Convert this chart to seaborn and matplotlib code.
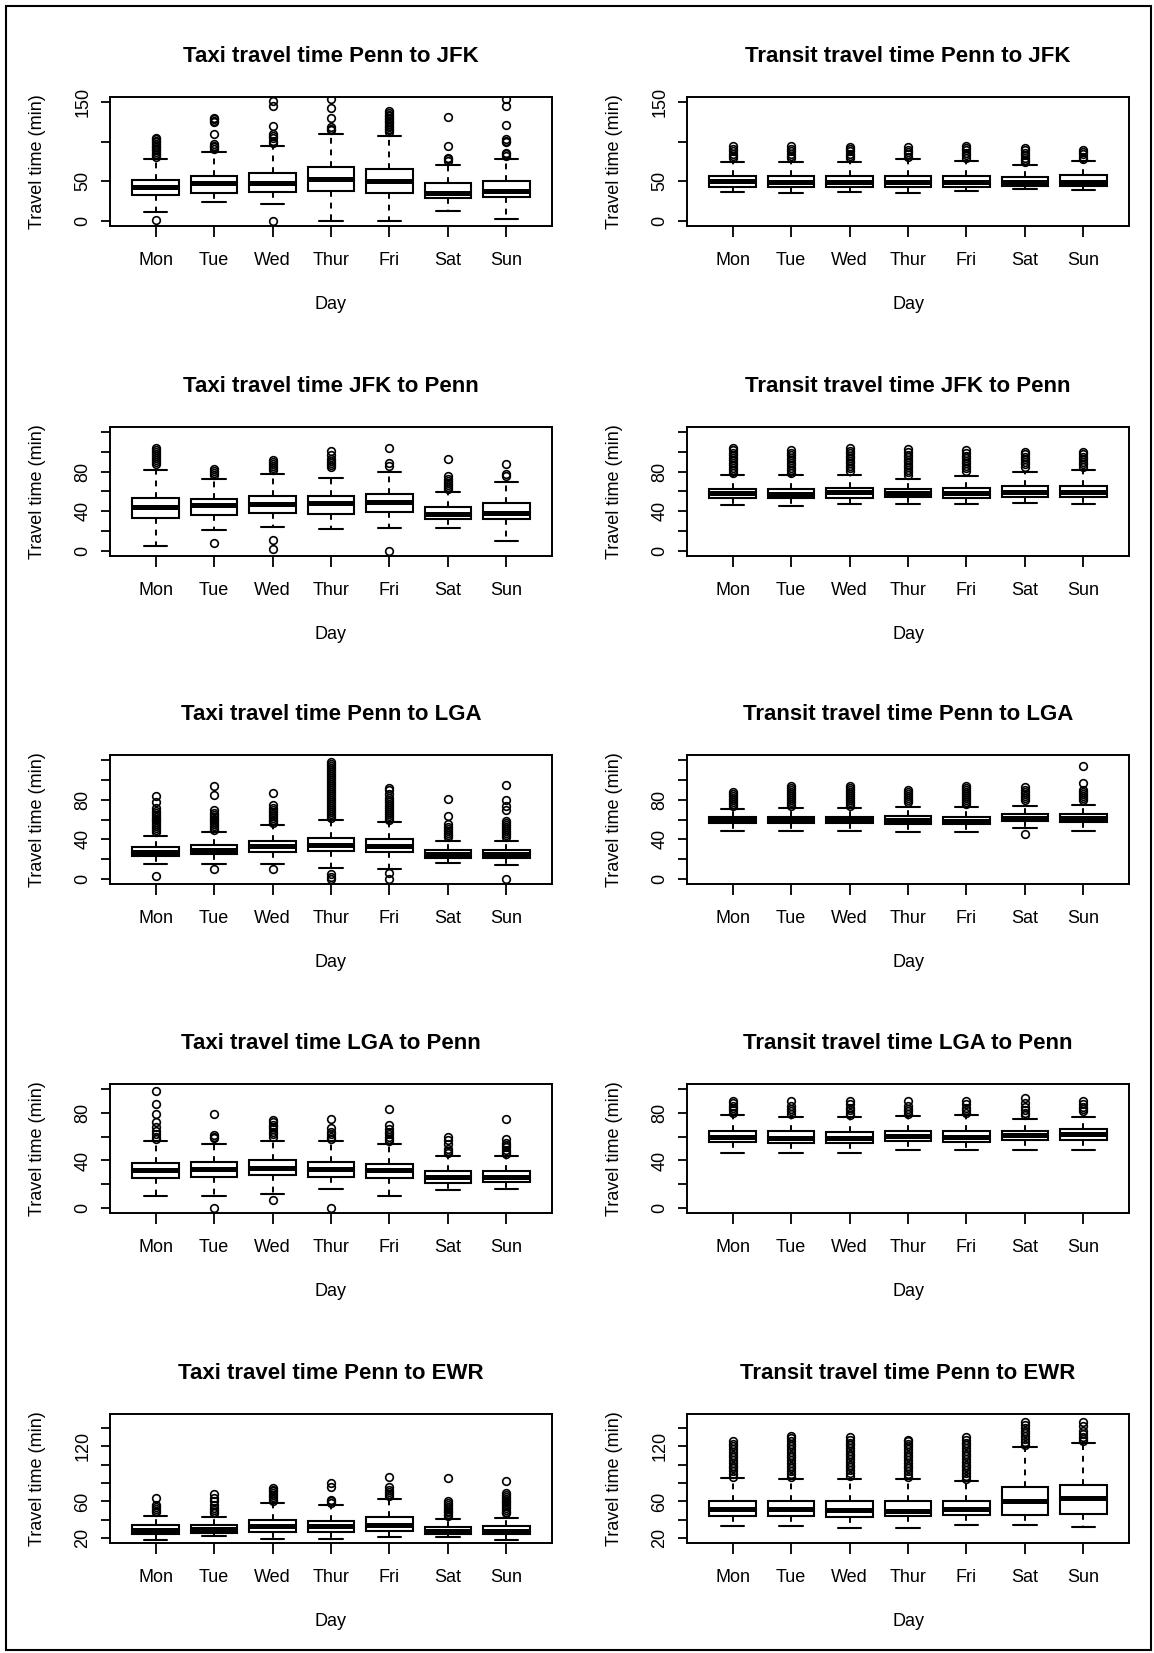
import numpy as np
import pandas as pd
import matplotlib.pyplot as plt
import seaborn as sns
from matplotlib.patches import Rectangle

days = ["Mon", "Tue", "Wed", "Thur", "Fri", "Sat", "Sun"]

# box summaries, one row per day:
# [lower whisker, Q1, median, Q3, upper whisker]
taxi_penn_jfk_box = [[11, 33, 42.5, 52, 78], [24, 35, 47.5, 57, 87], [21, 37, 48, 60, 94],
                     [0, 38, 53, 68, 109], [0, 36, 50, 66, 107], [13, 29, 36, 47.5, 71],
                     [3, 30, 38, 50, 78]]
taxi_penn_jfk_out = [[1, 81, 83, 85, 87, 89, 91, 93, 95, 97, 99, 101, 103, 105],
                     [91, 93, 95, 97, 110, 124, 126, 128, 130],
                     [0, 98, 101, 104, 107, 109, 119, 145, 151],
                     [114, 116, 118, 130, 142, 154],
                     [112, 114, 116, 118, 120, 122, 124, 126, 128, 130, 132, 134, 136, 138],
                     [76, 78, 80, 95, 131],
                     [82, 84, 86, 99, 101, 103, 121, 145, 153]]

transit_penn_jfk_box = [[37, 43, 50, 57, 74], [35, 43, 49, 57, 74], [37, 43, 49, 57, 74],
                        [36, 43, 49, 57, 73], [38, 43, 49, 57, 75], [40, 44.5, 49.5, 56, 71],
                        [39, 44, 49, 57.5, 75.5]]
transit_penn_jfk_out = [[79, 82, 85, 88, 91, 94], [79, 82, 85, 88, 91, 94],
                        [79, 82, 85, 88, 91, 93], [78, 81, 84, 87, 90, 93],
                        [80, 83, 86, 89, 92, 94], [74, 77, 80, 83, 86, 89, 92],
                        [78, 81, 84, 87, 89]]

taxi_jfk_penn_box = [[5, 33.3, 44, 53.3, 82], [21, 36, 46, 52, 73], [24, 38, 47, 55, 78],
                     [22, 37.3, 48, 55.7, 74], [23, 39, 49, 57, 80], [23, 32, 37, 44, 59],
                     [10, 32, 38, 48, 70]]
taxi_jfk_penn_out = [[88, 90, 92, 94, 96, 98, 100, 102, 104],
                     [8, 77, 79, 81, 83],
                     [2, 11, 82, 84, 86, 88, 90, 92],
                     [85, 87, 89, 91, 93, 97, 101],
                     [0, 86, 89, 104],
                     [63, 65, 67, 69, 71, 73, 76, 93],
                     [76, 78, 88]]

transit_jfk_penn_box = [[46, 53, 58, 63, 77], [45, 53, 57, 63, 77], [47, 53, 59, 64, 77],
                        [47, 54, 58, 63, 73], [47, 53, 58, 64, 76], [48, 54, 59, 66, 80],
                        [47, 54, 59, 66, 82]]
transit_jfk_penn_out = [[79, 81.5, 84, 86.5, 89, 91.5, 94, 96.5, 99, 101.5, 104],
                        [79, 81.5, 84, 86.5, 89, 91.5, 94, 96.5, 99, 102],
                        [81, 83.5, 86, 88.5, 91, 93.5, 96, 98.5, 101, 104],
                        [77, 79.5, 82, 84.5, 87, 89.5, 92, 94.5, 97, 99.5, 103],
                        [81, 83.5, 86, 88.5, 91, 93.5, 96, 98.5, 102],
                        [85, 87.5, 90, 92.5, 95, 97.5, 100],
                        [85, 87.5, 90, 92.5, 95, 97.5, 100]]

taxi_penn_lga_box = [[15, 23, 27, 32, 43], [15, 25, 29, 34, 47], [15, 27.5, 33, 38.5, 54],
                     [11, 28, 34, 41, 60], [10, 27, 33, 40, 57], [16, 21, 25, 29, 38],
                     [14, 21, 25, 29, 38]]
taxi_penn_lga_out = [[3, 47, 49, 51, 53, 55, 57, 59, 61, 63, 65, 67, 69, 72, 78, 84],
                     [10, 49, 51, 53, 55, 57, 59, 61, 63, 65, 67, 70, 85, 94],
                     [10, 56, 58, 60, 62, 64, 66, 68, 70, 72, 75, 87],
                     [0, 2, 5, 62, 64, 66, 68, 70, 72, 74, 76, 78, 80, 82, 84, 86, 88, 90,
                      92, 94, 96, 98, 100, 102, 104, 106, 108, 110, 112, 114, 116, 118],
                     [0, 6, 60, 62, 64, 66, 68, 70, 72, 74, 76, 78, 80, 82, 86, 90, 92],
                     [42, 44, 46, 48, 50, 52, 55, 64, 81],
                     [0, 42, 44, 46, 48, 50, 52, 54, 56, 58, 70, 74, 80, 95]]

transit_penn_lga_box = [[48, 56, 59, 63, 71], [48, 56, 59, 63, 72], [48, 56, 59, 63, 72],
                        [47, 55, 59, 64, 73], [47, 55, 58, 63, 73], [51, 58, 62, 66, 74],
                        [48, 57, 62, 66, 75]]
transit_penn_lga_out = [[74, 76, 78, 80, 82, 84, 86, 88],
                        [74, 76, 78, 80, 82, 84, 86, 88, 90, 92, 94],
                        [74, 76, 78, 80, 82, 84, 86, 88, 90, 92, 94],
                        [78, 80, 82, 84, 86, 88, 90],
                        [76, 78, 80, 82, 84, 86, 88, 90, 92, 94],
                        [45, 80, 82, 84, 86, 88, 90, 93],
                        [80, 82, 84, 86, 88, 90, 97, 114]]

taxi_lga_penn_box = [[10, 25, 32, 38, 56], [10, 26, 33, 39, 54], [12, 27.5, 34, 40, 56],
                     [16, 26.5, 33, 39, 56], [10, 25, 32, 37, 53.5], [15, 21.5, 26, 31, 44],
                     [16, 22, 26, 31, 44]]
taxi_lga_penn_out = [[58, 60, 62, 65, 68, 72, 79, 87, 98],
                     [0, 59, 60, 61, 79],
                     [7, 60, 62, 64, 66, 68, 70, 72, 74],
                     [0, 58, 60, 62, 64, 67, 75],
                     [56, 58, 60, 62, 64, 66, 70, 83],
                     [46, 48, 50, 54, 57, 60],
                     [45, 47, 49, 51, 53, 55, 58, 75]]

transit_lga_penn_box = [[46, 55.5, 60, 65, 78], [46, 55, 59, 64.5, 76], [46, 55, 59, 64, 76],
                        [48.5, 56, 60.5, 65, 77], [48.5, 55.5, 60, 65, 78],
                        [48.5, 57, 61, 65, 75], [48.5, 57.5, 62.5, 66.5, 76]]
transit_lga_penn_out = [[80, 82, 84, 86, 88, 90], [79, 81, 83, 86, 90],
                        [78, 80, 82, 84, 87, 90], [79, 81, 83, 86, 90],
                        [80, 82, 84, 87, 90], [78, 80, 82, 85, 88, 92],
                        [81, 83, 85, 87, 90]]

taxi_penn_ewr_box = [[18, 25, 29, 34, 44], [22, 25.5, 30, 34, 43], [19, 26.5, 33, 40, 58],
                     [19, 26.5, 33, 39, 56], [21, 28, 34.5, 43, 63], [21, 24.7, 28, 32, 41],
                     [18, 24.7, 28, 33.5, 42]]
taxi_penn_ewr_out = [[48, 50, 52, 54, 56, 64],
                     [47, 49, 51, 53, 56, 60, 64, 68],
                     [61, 63, 65, 67, 69, 71, 73, 75],
                     [58, 60, 62, 76, 80],
                     [66, 68, 70, 72, 76, 87],
                     [44, 46, 48, 50, 52, 54, 56, 58, 61, 86],
                     [47, 49, 51, 53, 55, 57, 59, 61, 63, 65, 67, 69, 82]]

transit_penn_ewr_box = [[33.5, 44, 51.5, 61, 85.5], [33.5, 44, 51.5, 61, 84],
                        [31.5, 43.5, 51, 61, 84.5], [31.5, 44, 50, 61, 84],
                        [34, 45.5, 51.5, 61, 82], [34, 45, 60, 75.5, 119],
                        [32, 46.5, 63.5, 78, 124]]
transit_penn_ewr_out = [[87, 90, 93, 96, 99, 102, 105, 108, 111, 114, 117, 120, 123, 126],
                        [87, 90, 93, 96, 99, 102, 105, 108, 111, 114, 117, 120, 123, 126, 129, 131],
                        [88, 91, 94, 97, 100, 103, 106, 109, 112, 115, 118, 121, 124, 127, 130],
                        [87, 90, 93, 96, 99, 102, 105, 108, 111, 114, 117, 120, 123, 126, 127],
                        [85, 88, 91, 94, 97, 100, 103, 106, 109, 112, 115, 118, 121, 124, 127, 130],
                        [122, 125, 128, 131, 134, 137, 140, 143, 146],
                        [126, 128, 130, 133, 137, 142, 146]]

jfk_ticks, jfk_labels = [0, 50, 100, 150], ["0", "50", "", "150"]
mid_ticks, mid_labels = [0, 20, 40, 60, 80, 100, 120], ["0", "", "40", "", "80", "", ""]
lga_ticks, lga_labels = [0, 20, 40, 60, 80, 100], ["0", "", "40", "", "80", ""]
ewr_ticks, ewr_labels = [20, 40, 60, 80, 100, 120, 140], ["20", "", "60", "", "", "120", ""]

panels = [
    ("Taxi travel time Penn to JFK", taxi_penn_jfk_box, taxi_penn_jfk_out, (0, 150), jfk_ticks, jfk_labels),
    ("Transit travel time Penn to JFK", transit_penn_jfk_box, transit_penn_jfk_out, (0, 150), jfk_ticks, jfk_labels),
    ("Taxi travel time JFK to Penn", taxi_jfk_penn_box, taxi_jfk_penn_out, (0, 120), mid_ticks, mid_labels),
    ("Transit travel time JFK to Penn", transit_jfk_penn_box, transit_jfk_penn_out, (0, 120), mid_ticks, mid_labels),
    ("Taxi travel time Penn to LGA", taxi_penn_lga_box, taxi_penn_lga_out, (0, 120), mid_ticks, mid_labels),
    ("Transit travel time Penn to LGA", transit_penn_lga_box, transit_penn_lga_out, (0, 120), mid_ticks, mid_labels),
    ("Taxi travel time LGA to Penn", taxi_lga_penn_box, taxi_lga_penn_out, (0, 100), lga_ticks, lga_labels),
    ("Transit travel time LGA to Penn", transit_lga_penn_box, transit_lga_penn_out, (0, 100), lga_ticks, lga_labels),
    ("Taxi travel time Penn to EWR", taxi_penn_ewr_box, taxi_penn_ewr_out, (20, 150), ewr_ticks, ewr_labels),
    ("Transit travel time Penn to EWR", transit_penn_ewr_box, transit_penn_ewr_out, (20, 150), ewr_ticks, ewr_labels),
]


def box_frame(boxes, outliers, reps=200):
    # rebuild a sample whose quartiles / whiskers match the read-off summary
    rows = []
    for day, box, out in zip(days, boxes, outliers):
        lo, q1, med, q3, hi = box
        vals = [lo] + [q1] * reps + [med] * reps + [q3] * reps + [hi] + list(out)
        rows += [(day, v) for v in vals]
    return pd.DataFrame(rows, columns=["Day", "Travel"])


sns.set_style("white")
plt.rcParams["font.family"] = ["Liberation Sans", "DejaVu Sans"]

W, H = 1154, 1653
fig = plt.figure(figsize=(W / 100, H / 100), dpi=100)
fig.patch.set_facecolor("white")

frame_tops = [97, 427, 755, 1084, 1414]
frame_lefts = [110, 687]
fw, fh = 442, 129

for i, (title, boxes, outs, (ymin, ymax), ticks, labels) in enumerate(panels):
    top = frame_tops[i // 2]
    left = frame_lefts[i % 2]
    ax = fig.add_axes([left / W, 1 - (top + fh) / H, fw / W, fh / H])
    df = box_frame(boxes, outs)
    sns.boxplot(data=df, x="Day", y="Travel", order=days, color="white", linecolor="black",
                linewidth=1.5, width=0.8, whis=1.5, ax=ax,
                medianprops=dict(color="black", linewidth=3.6),
                whiskerprops=dict(color="black", linewidth=1.4, linestyle=(0, (3, 3))),
                capprops=dict(color="black", linewidth=1.5),
                flierprops=dict(marker="o", markerfacecolor="none", markeredgecolor="black",
                                markersize=5.5, markeredgewidth=1.2))
    pad = 0.04 * (ymax - ymin)
    ax.set_ylim(ymin - pad, ymax + pad)
    ax.set_xlim(-0.78, 6.78)
    ax.set_xticks(range(7))
    ax.set_xticklabels(days)
    ax.set_yticks(ticks)
    ax.set_yticklabels(labels, rotation=90, va="center")
    ax.tick_params(axis="x", bottom=True, length=8, width=1.3, pad=11, labelsize=13,
                   colors="black")
    ax.tick_params(axis="y", left=True, length=6.5, width=1.3, pad=7, labelsize=13,
                   colors="black")
    for sp in ax.spines.values():
        sp.set_visible(True)
        sp.set_color("black")
        sp.set_linewidth(1.4)
    ax.set_title(title, fontsize=16, fontweight="bold", pad=25, color="black")
    ax.set_xlabel("Day", fontsize=13, labelpad=19, color="black")
    ax.set_ylabel("Travel time (min)", fontsize=13, labelpad=20, color="black")

fig.add_artist(Rectangle((6 / W, 1 - 1650 / H), 1145 / W, 1644 / H, transform=fig.transFigure,
                         fill=False, edgecolor="black", linewidth=1.5))

fig.savefig("out.png", dpi=100)
